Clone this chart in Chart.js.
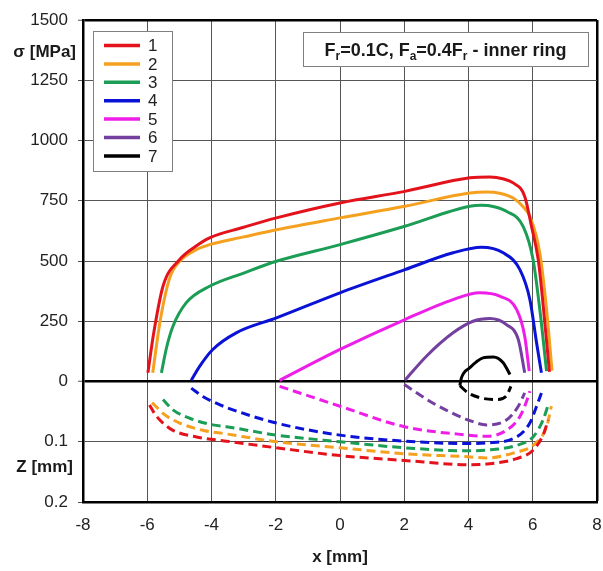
<!DOCTYPE html>
<html>
<head>
<meta charset="utf-8">
<script src="https://cdn.jsdelivr.net/npm/chart.js@4.4.0/dist/chart.umd.min.js"></script>
<style>
html, body { margin: 0; padding: 0; background: #fff; }
#wrap { width: 603px; height: 571px; }
</style>
</head>
<body>
<div id="wrap"><canvas id="stress_chart" width="603" height="571"></canvas></div>
<script>
var FONT = "'Liberation Sans', Arial, sans-serif";

var seriesNames = ['1', '2', '3', '4', '5', '6', '7'];
var seriesColors = ['#e3121b', '#f5a01e', '#1b9d55', '#0a12d6', '#ee1ee8', '#7440a0', '#000000'];

// solid curves: stress sigma [MPa] over x [mm]
var sigmaX1 = [-5.98, -5.8, -5.51, -4.99, -4.5, -4.06, -3, -1.98, 0, 2.02, 4.04, 4.66, 5.1, 5.39, 5.75, 5.96, 6.17, 6.3, 6.52];
var sigma1  = [36, 200, 395, 506, 560, 596, 640, 679, 741, 789, 845, 849, 840, 824, 768, 644, 506, 350, 40];
var sigmaX2 = [-5.83, -5.6, -5.3, -4.99, -4.5, -4.06, -3, -1.98, 0, 2.02, 4.04, 4.56, 5.0, 5.39, 5.7, 5.91, 6.22, 6.43, 6.6];
var sigma2  = [36, 250, 430, 499, 545, 568, 600, 630, 679, 727, 782, 786, 780, 761, 725, 685, 533, 298, 45];
var sigmaX3 = [-5.56, -5.4, -5.2, -4.79, -4.06, -3, -1.98, 0, 2.02, 4.04, 4.4, 4.8, 5.18, 5.7, 6.01, 6.22, 6.43];
var sigma3  = [36, 140, 229, 326, 395, 450, 499, 568, 644, 727, 731, 725, 706, 644, 506, 298, 43];
var sigmaX4 = [-4.63, -4.37, -3.96, -3.23, -1.98, 0, 2.02, 3.52, 4.4, 5.08, 5.6, 5.91, 6.12, 6.27];
var sigma4  = [5, 63, 133, 202, 264, 368, 464, 534, 557, 534, 464, 340, 160, 36];
var sigmaX5 = [-1.88, 0, 2.02, 3.52, 4.35, 4.97, 5.5, 5.75, 5.89];
var sigma5  = [5, 133, 257, 340, 368, 354, 298, 188, 43];
var sigmaX6 = [2.02, 2.69, 3.52, 4.14, 4.66, 5.18, 5.55, 5.75];
var sigma6  = [5, 105, 202, 250, 261, 236, 174, 36];
var sigmaX7 = [3.73, 3.78, 4.04, 4.45, 4.77, 5.08, 5.29];
var sigma7  = [-17, 15, 57, 98, 102, 78, 29];

// dashed curves: depth Z [mm] over x [mm]
var depthX1 = [-5.93, -5.75, -5.55, -5.2, -4.47, -3.54, -1.98, 0, 2, 4, 4.56, 5.5, 6.01, 6.32, 6.48];
var depth1  = [0.039, 0.055, 0.067, 0.081, 0.092, 0.099, 0.110, 0.123, 0.131, 0.138, 0.137, 0.128, 0.114, 0.089, 0.064];
var depthX2 = [-5.85, -5.46, -4.99, -4.27, -3.54, -1.98, 0, 2, 4, 4.56, 5.5, 6.01, 6.43, 6.58];
var depth2  = [0.035, 0.055, 0.069, 0.081, 0.087, 0.100, 0.110, 0.120, 0.125, 0.127, 0.117, 0.106, 0.075, 0.041];
var depthX3 = [-5.51, -5.2, -4.68, -3.96, -3.54, -1.98, 0, 2, 4, 4.56, 5.5, 6.01, 6.32, 6.48];
var depth3  = [0.030, 0.047, 0.061, 0.072, 0.075, 0.089, 0.100, 0.110, 0.115, 0.114, 0.106, 0.092, 0.064, 0.039];
var depthX4 = [-4.63, -4.27, -3.85, -3.49, -1.98, 0, 2, 4, 4.56, 5.5, 5.91, 6.12, 6.27];
var depth4  = [0.011, 0.025, 0.036, 0.044, 0.069, 0.089, 0.099, 0.103, 0.102, 0.092, 0.069, 0.041, 0.019];
var depthX5 = [-1.88, 0, 2, 4, 4.56, 5.18, 5.6, 5.86, 5.91];
var depth5  = [0.008, 0.041, 0.075, 0.089, 0.091, 0.081, 0.058, 0.025, 0.016];
var depthX6 = [2, 2.9, 4, 4.56, 5.18, 5.55, 5.75];
var depth6  = [0.005, 0.036, 0.064, 0.072, 0.064, 0.041, 0.019];
var depthX7 = [3.73, 3.99, 4.36, 4.87, 5.18, 5.32];
var depth7  = [0.007, 0.019, 0.027, 0.030, 0.024, 0.008];

// axis ticks; the lower half of the y axis shows depth (0.1 mm drawn where -250 MPa would be)
var xTickValues = [-8, -6, -4, -2, 0, 2, 4, 6, 8];
var yTickValues = [-500, -250, 0, 250, 500, 750, 1000, 1250, 1500];
var yTickLabels = ['0.2', '0.1', '0', '250', '500', '750', '1000', '1250', '1500'];
var depthToAxis = -2500;

var sigmaXs = [sigmaX1, sigmaX2, sigmaX3, sigmaX4, sigmaX5, sigmaX6, sigmaX7];
var sigmas = [sigma1, sigma2, sigma3, sigma4, sigma5, sigma6, sigma7];
var depthXs = [depthX1, depthX2, depthX3, depthX4, depthX5, depthX6, depthX7];
var depths = [depth1, depth2, depth3, depth4, depth5, depth6, depth7];

function toPoints(xs, ys, k) {
    return xs.map(function (x, i) { return { x: x, y: ys[i] * k }; });
}

var datasets = [];
seriesNames.forEach(function (name, i) {
    datasets.push({
        label: name,
        data: toPoints(sigmaXs[i], sigmas[i], 1),
        borderColor: seriesColors[i],
        borderWidth: 3,
        showLine: true,
        pointRadius: 0,
        cubicInterpolationMode: 'monotone'
    });
});
seriesNames.forEach(function (name, i) {
    datasets.push({
        label: name + ' depth',
        data: toPoints(depthXs[i], depths[i], depthToAxis),
        borderColor: seriesColors[i],
        borderWidth: 3,
        borderDash: [9, 5],
        showLine: true,
        pointRadius: 0,
        cubicInterpolationMode: 'monotone'
    });
});

// legend box, load case box and the two axis names
var overlayPlugin = {
    id: 'overlay',
    afterDatasetsDraw: function (chart) {
        var ctx = chart.ctx;
        var yScale = chart.scales.y;
        ctx.save();

        // legend
        ctx.fillStyle = '#fff';
        ctx.fillRect(93, 31, 79, 140);
        ctx.strokeStyle = '#808080';
        ctx.lineWidth = 1;
        ctx.strokeRect(93.5, 31.5, 79, 140);
        ctx.font = '17px ' + FONT;
        ctx.textBaseline = 'middle';
        ctx.textAlign = 'left';
        seriesNames.forEach(function (name, i) {
            var y = 45.5 + i * 18.4;
            ctx.strokeStyle = seriesColors[i];
            ctx.lineWidth = 3.5;
            ctx.beginPath();
            ctx.moveTo(104, y);
            ctx.lineTo(140, y);
            ctx.stroke();
            ctx.fillStyle = '#222';
            ctx.fillText(name, 148, y + 1);
        });

        // load case
        ctx.fillStyle = '#fff';
        ctx.fillRect(303, 32, 285, 34);
        ctx.strokeStyle = '#808080';
        ctx.lineWidth = 1;
        ctx.strokeRect(303.5, 32.5, 285, 34);
        var parts = [['F', 0], ['r', 1], ['=0.1C, F', 0], ['a', 1], ['=0.4F', 0], ['r', 1], [' - inner ring', 0]];
        var big = 'bold 18px ' + FONT, small = 'bold 12px ' + FONT;
        var total = 0;
        parts.forEach(function (p) { ctx.font = p[1] ? small : big; total += ctx.measureText(p[0]).width; });
        var x = 303 + (285 - total) / 2;
        ctx.textBaseline = 'alphabetic';
        ctx.fillStyle = '#1a1a1a';
        parts.forEach(function (p) {
            ctx.font = p[1] ? small : big;
            ctx.fillText(p[0], x, p[1] ? 60 : 56);
            x += ctx.measureText(p[0]).width;
        });

        // axis names
        ctx.font = 'bold 17px ' + FONT;
        ctx.textAlign = 'right';
        ctx.textBaseline = 'middle';
        ctx.fillStyle = '#1a1a1a';
        ctx.fillText('\u03c3 [MPa]', 76, yScale.getPixelForValue(1365));
        ctx.fillText('Z [mm]', 73, yScale.getPixelForValue(-355));
        ctx.restore();
    }
};

function edgeLine(ctx, edges) {
    return ctx.tick && edges.indexOf(ctx.tick.value) >= 0;
}

var ctx = document.getElementById('stress_chart').getContext('2d');
var stressChart = new Chart(ctx, {
    type: 'scatter',
    data: { datasets: datasets },
    plugins: [overlayPlugin],
    options: {
        responsive: false,
        animation: false,
        layout: { padding: { left: 0, top: 20, right: 6, bottom: 0 } },
        plugins: {
            legend: { display: false },
            tooltip: { enabled: false }
        },
        scales: {
            x: {
                type: 'linear',
                min: -8,
                max: 8,
                afterBuildTicks: function (scale) {
                    scale.ticks = xTickValues.map(function (v) { return { value: v }; });
                },
                afterFit: function (scale) {
                    scale.height = 69;
                    scale.paddingLeft = 0;
                    scale.paddingRight = 0;
                },
                grid: {
                    color: function (c) { return edgeLine(c, [8]) ? '#000' : '#555'; },
                    lineWidth: function (c) { return edgeLine(c, [8]) ? 2.5 : 1; },
                    drawTicks: false
                },
                border: { color: '#000', width: 2.5 },
                ticks: {
                    color: '#222',
                    font: { family: FONT, size: 17 },
                    padding: 13,
                    maxRotation: 0
                },
                title: {
                    display: true,
                    text: 'x [mm]',
                    color: '#1a1a1a',
                    font: { family: FONT, size: 17, weight: 'bold' },
                    padding: { top: 0, bottom: 3 }
                }
            },
            y: {
                type: 'linear',
                min: -500,
                max: 1500,
                afterBuildTicks: function (scale) {
                    scale.ticks = yTickValues.map(function (v) { return { value: v }; });
                },
                afterFit: function (scale) {
                    scale.width = 83;
                    scale.paddingTop = 0;
                    scale.paddingBottom = 0;
                },
                grid: {
                    color: function (c) { return edgeLine(c, [0, 1500]) ? '#000' : '#555'; },
                    lineWidth: function (c) { return edgeLine(c, [0, 1500]) ? 2.5 : 1; },
                    tickLength: 5,
                    tickColor: '#555',
                    tickWidth: 1
                },
                border: { color: '#000', width: 2.5 },
                ticks: {
                    color: '#222',
                    font: { family: FONT, size: 17 },
                    padding: 10,
                    callback: function (value, index) { return yTickLabels[index]; }
                }
            }
        }
    }
});
</script>
</body>
</html>
